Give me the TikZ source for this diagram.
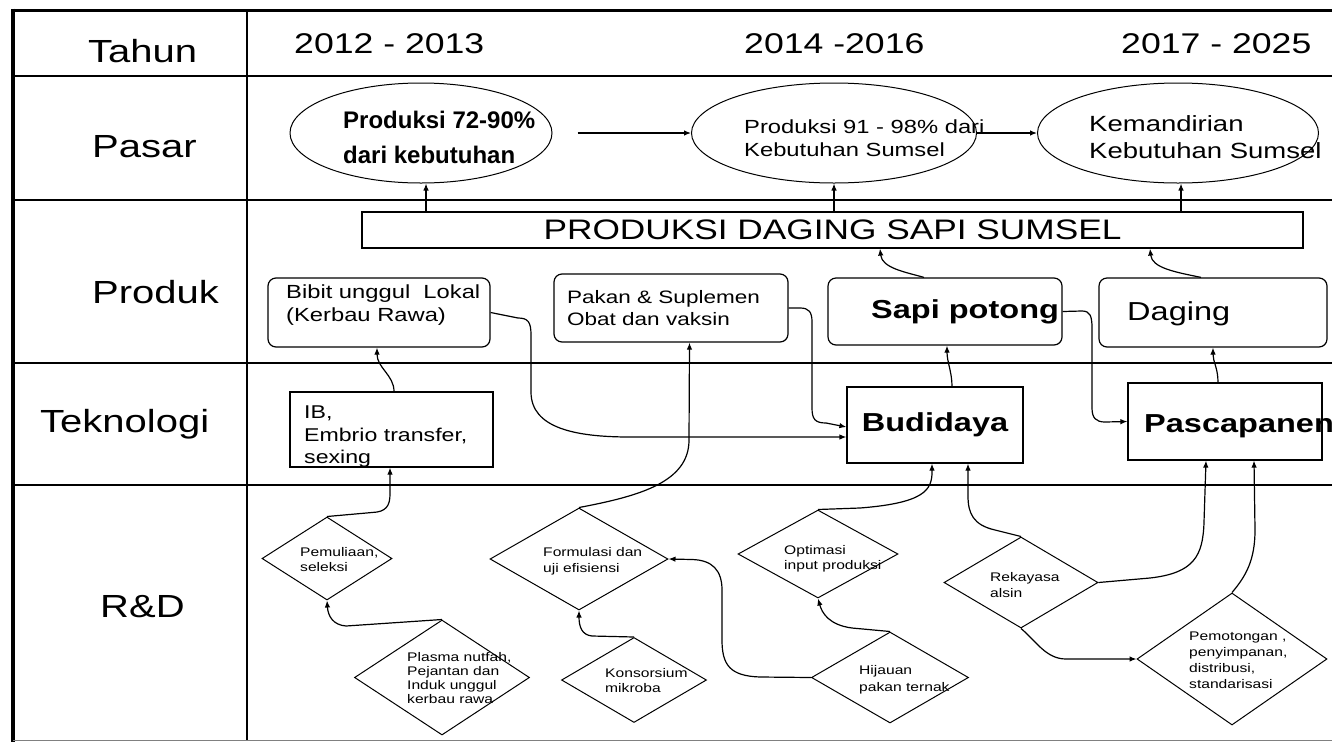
\documentclass[tikz,border=0pt]{standalone}
\usepackage{fontspec}
\setmainfont{Liberation Sans}
\newfontfamily\rf[FakeStretch=1.25]{Liberation Sans}
\usetikzlibrary{shapes.geometric,arrows.meta}
\newcommand{\myfs}[2]{\fontsize{#1}{#2}\selectfont}
\begin{document}
\begin{tikzpicture}[x=1pt,y=-1pt,
  grid/.style={line width=1.4pt},
  arr/.style={-{Latex[length=7pt,width=5.5pt]}, line width=1.2pt},
  ell/.style={draw, ellipse, line width=1pt, inner sep=0pt},
  rbox/.style={draw, rounded corners=8pt, line width=1.2pt, inner sep=0pt},
  sbox/.style={draw, line width=1.2pt, inner sep=0pt},
  dia/.style={draw, diamond, line width=1pt, inner sep=0pt},
  txt/.style={inner sep=0pt, anchor=north west, align=left},
  lbl/.style={inner sep=0pt, anchor=base west, font=\rf\myfs{32}{38}},
  yr/.style={inner sep=0pt, anchor=base west, font=\rf\myfs{28.5}{34}},
  small/.style={txt, font=\rf\myfs{12.5}{15.5}},
  mid/.style={txt, font=\rf\myfs{18.5}{22.5}}
]
\path[use as bounding box, fill=white] (0,0) rectangle (1332,742);
\clip (0,0) rectangle (1332,742);

% ---------- table frame ----------
\draw[line width=3pt] (11,10) -- (1332,10);
\draw[line width=4.5pt] (13,8.5) -- (13,742);
\draw[line width=1pt, gray] (13,740) -- (1332,740);
\draw[grid] (247,10) -- (247,740);
\draw[grid] (13,76) -- (1332,76);
\draw[grid] (13,200) -- (1332,200);
\draw[grid] (13,363) -- (1332,363);
\draw[grid] (13,485) -- (1332,485);

% ---------- row labels ----------
\node[lbl] (lTahun) at (88,62) {Tahun};
\node[lbl] (lPasar) at (92,157) {Pasar};
\node[lbl] (lProduk) at (92,303) {Produk};
\node[lbl] (lTek) at (40,432) {Teknologi};
\node[lbl] (lRD) at (100,617) {R\&D};

% ---------- years ----------
\node[yr] (y1) at (294,53) {2012 - 2013};
\node[yr] (y2) at (744,53) {2014 -2016};
\node[yr] (y3) at (1121,53) {2017 - 2025};

% ---------- Pasar ----------
\node[ell, minimum width=262pt, minimum height=100pt] (e1) at (421,133) {};
\node[ell, minimum width=285pt, minimum height=100pt] (e2) at (834,133) {};
\node[ell, minimum width=281pt, minimum height=100pt] (e3) at (1178,133) {};
\node[txt, font=\bfseries\myfs{24}{35}] (te1) at (343,111) {Produksi 72-90\%\\dari kebutuhan};
\node[txt, font=\rf\myfs{19}{23}] (te2) at (744,120) {Produksi 91 - 98\% dari\\Kebutuhan Sumsel};
\node[txt, font=\rf\myfs{22}{27}] (te3) at (1089,115) {Kemandirian\\Kebutuhan Sumsel};
\draw[arr] ([xshift=25pt]e1.east) -- (e2.west);
\draw[arr] (e2.east) -- (e3.west);

% ---------- Produk ----------
\node[sbox, minimum width=941pt, minimum height=36pt, font=\rf\myfs{28.2}{34}] (prod) at (832.5,230) {PRODUKSI DAGING SAPI SUMSEL};
\draw[arr] ([xshift=-406.5pt]prod.north) -- ([xshift=5pt]e1.south);
\draw[arr] ([xshift=1.5pt]prod.north) -- (e2.south);
\draw[arr] ([xshift=348.5pt]prod.north) -- ([xshift=3pt]e3.south);

\node[rbox, minimum width=222pt, minimum height=69pt] (bibit) at (379,312.5) {};
\node[rbox, minimum width=234pt, minimum height=68pt] (pakan) at (671,308) {};
\node[rbox, minimum width=234pt, minimum height=67pt] (sapi) at (945,311.5) {};
\node[rbox, minimum width=228pt, minimum height=69pt] (daging) at (1213,312.5) {};
\node[txt, font=\rf\myfs{19}{23}] (tbibit) at (286,285) {Bibit unggul\ \ Lokal\\(Kerbau Rawa)};
\node[txt, font=\rf\myfs{18}{22}] (tpakan) at (567,290) {Pakan \& Suplemen\\Obat dan vaksin};
\node[inner sep=0pt, anchor=base west, font=\rf\bfseries\myfs{26}{31}] (tsapi) at (871,318) {Sapi potong};
\node[inner sep=0pt, anchor=base west, font=\rf\myfs{26}{31}] (tdaging) at (1127,320) {Daging};

% ---------- Teknologi ----------
\node[sbox, minimum width=203pt, minimum height=75pt] (ib) at (391.5,429.5) {};
\node[mid] (tib) at (304,406) {IB,\\Embrio transfer,\\sexing};
\node[sbox, minimum width=176pt, minimum height=76pt, font=\rf\bfseries\myfs{26}{31}] (budi) at (935,425) {Budidaya};
\node[sbox, minimum width=194pt, minimum height=77pt] (pasca) at (1225,421.5) {};
\node[inner sep=0pt, anchor=base west, font=\rf\bfseries\myfs{26}{31}] (tpasca) at (1144,432) {Pascapanen};

% ---------- R&D ----------
\node[dia, minimum width=130pt, minimum height=83pt] (pem) at (327,558.5) {};
\node[dia, minimum width=175pt, minimum height=115pt] (plasma) at (442,677.5) {};
\node[dia, minimum width=178pt, minimum height=102pt] (form) at (579,559) {};
\node[dia, minimum width=145pt, minimum height=85pt] (kons) at (634,680) {};
\node[dia, minimum width=160pt, minimum height=88pt] (opt) at (818,554) {};
\node[dia, minimum width=157pt, minimum height=91pt] (hij) at (890,677.5) {};
\node[dia, minimum width=154pt, minimum height=91pt] (rek) at (1021,582.5) {};
\node[dia, minimum width=190pt, minimum height=132pt] (pemo) at (1232,659) {};

\node[small] (tpem) at (300,547) {Pemuliaan,\\seleksi};
\node[small, font=\rf\myfs{12.5}{14}] (tplasma) at (407,652) {Plasma nutfah,\\Pejantan dan\\Induk unggul\\kerbau rawa};
\node[small, font=\rf\myfs{12.5}{16}] (tform) at (543,547) {Formulasi dan\\uji efisiensi};
\node[small] (tkons) at (605,668) {Konsorsium\\mikroba};
\node[small] (topt) at (784,545) {Optimasi\\input produksi};
\node[small, font=\rf\myfs{12.5}{17}] (thij) at (859,665) {Hijauan\\pakan ternak};
\node[small, font=\rf\myfs{12.5}{16}] (trek) at (990,572) {Rekayasa\\alsin};
\node[small, font=\rf\myfs{12.5}{16}] (tpemo) at (1189,632) {Pemotongan ,\\penyimpanan,\\distribusi,\\standarisasi};

% ---------- connectors ----------
% Produk -> PRODUKSI
\draw[arr] ([xshift=-21pt]sapi.north) .. controls (905,272) and (882,268) .. ([xshift=47.5pt]prod.south);
\draw[arr] ([xshift=-12pt]daging.north) .. controls (1175,272) and (1152,268) .. ([xshift=317.5pt]prod.south);
% Teknologi -> Produk
\draw[arr] ([xshift=2.5pt]ib.north) .. controls (394,375) and (377,368) .. ([xshift=-2pt]bibit.south);
\draw[arr] ([xshift=17pt]budi.north) .. controls (952,372) and (947,362) .. ([xshift=2pt]sapi.south);
\draw[arr] ([xshift=-7pt]pasca.north) .. controls (1218,368) and (1213,362) .. (daging.south);
% Produk -> Teknologi
\draw[arr] (bibit.east) -- (518,318) .. controls (528,318) and (531,322) .. (531,335) -- (531,392)
  .. controls (531,428) and (575,437) .. (630,437) -- ([yshift=-12pt]budi.west);
\draw[arr] (pakan.east) -- (800,308) .. controls (809,308) and (812,312) .. (812,322) -- (812,408)
  .. controls (812,419) and (815,423) .. (826,423) -- ([yshift=-2pt]budi.west);
\draw[arr] (sapi.east) -- (1082,311) .. controls (1090,311) and (1092,316) .. (1092,328) -- (1092,408)
  .. controls (1092,418) and (1096,422) .. (1105,422) -- (pasca.west);
% R&D -> Teknologi / Produk
\draw[arr] (pem.north) -- (372,512.5) .. controls (386,512) and (390,506) .. (390,494) -- ([xshift=-1.5pt]ib.south);
\draw[arr] (form.north) .. controls (640,496) and (689,482) .. (689,440) -- ([xshift=18.5pt]pakan.south);
\draw[arr] (opt.north) -- (860,508) .. controls (924,503) and (932,490) .. (932,472) -- ([xshift=-3pt]budi.south);
\draw[arr] (rek.north) -- (995,530) .. controls (973,525) and (968,513) .. (968,496) -- ([xshift=33pt]budi.south);
\draw[arr] (rek.east) -- (1150,578) .. controls (1194,573) and (1203,556) .. (1204,522) -- ([xshift=-19pt]pasca.south);
\draw[arr] (pemo.north) .. controls (1246,576) and (1255,560) .. (1255,530) -- ([xshift=29pt]pasca.south);
% R&D internal
\draw[arr] (plasma.north) -- (346,626) .. controls (333,625) and (328,616) .. (pem.south);
\draw[arr] (kons.north) -- (592,636) .. controls (582,635) and (579,627) .. (form.south);
\draw[arr] (hij.west) -- (760,677) .. controls (730,676) and (722,665) .. (722,640) -- (722,590)
  .. controls (722,570) and (712,560) .. (692,559.5) -- (form.east);
\draw[arr] (hij.north) -- (852,628) .. controls (829,625) and (822,613) .. (opt.south);
\draw[arr] (rek.south) .. controls (1036,641) and (1046,659) .. (1066,659) -- (pemo.west);
\end{tikzpicture}
\end{document}
